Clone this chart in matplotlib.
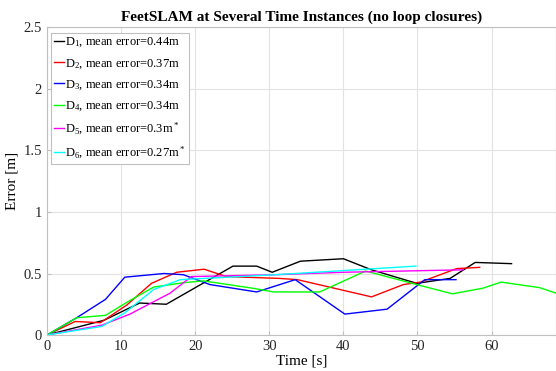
import numpy as np
import matplotlib
matplotlib.use("Agg")
import matplotlib.pyplot as plt

plt.rcParams['font.family'] = ['Liberation Serif', 'DejaVu Serif']
plt.rcParams['mathtext.fontset'] = 'custom'
plt.rcParams['mathtext.rm'] = 'Liberation Serif'
plt.rcParams['mathtext.it'] = 'Liberation Serif:italic'

# values
t_d1 = [0, 7.7, 12.5, 16.1, 25.1, 28.3, 30.4, 34.2, 40.0, 43.8, 49.9, 54.4, 57.8, 62.7]
e_d1 = [0, 0.12, 0.26, 0.25, 0.56, 0.56, 0.51, 0.60, 0.62, 0.53, 0.42, 0.46, 0.59, 0.58]

t_d2 = [0, 3.8, 7.2, 10.8, 14.1, 17.5, 21.2, 24.2, 31.4, 33.8, 43.8, 48.1, 50.4, 55.3, 58.4]
e_d2 = [0, 0.11, 0.10, 0.245, 0.42, 0.51, 0.535, 0.475, 0.46, 0.45, 0.31, 0.41, 0.43, 0.54, 0.55]

t_d3 = [0, 4.0, 7.9, 10.5, 15.8, 18.4, 22.0, 28.3, 33.5, 40.2, 45.9, 51.0, 55.2]
e_d3 = [0, 0.14, 0.29, 0.47, 0.50, 0.49, 0.41, 0.35, 0.45, 0.17, 0.21, 0.45, 0.45]

t_d4 = [0, 4.0, 7.9, 10.9, 14.4, 18.4, 21.1, 27.8, 30.6, 36.8, 43.0, 49.9, 54.7, 58.8, 61.3, 66.5, 68.7]
e_d4 = [0, 0.14, 0.16, 0.27, 0.39, 0.425, 0.44, 0.38, 0.35, 0.35, 0.52, 0.41, 0.335, 0.38, 0.43, 0.385, 0.34]

t_d5 = [0, 7.4, 11.2, 16.6, 19.5, 30.8, 40.0, 56.2]
e_d5 = [0, 0.08, 0.17, 0.34, 0.475, 0.49, 0.51, 0.53]

t_d6 = [0, 7.4, 10.5, 14.4, 18.0, 30.8, 49.8]
e_d6 = [0, 0.07, 0.18, 0.37, 0.45, 0.49, 0.56]

labels = [r'D$_1$, mean error=0.44m',
          r'D$_2$, mean error=0.37m',
          r'D$_3$, mean error=0.34m',
          r'D$_4$, mean error=0.34m',
          r'D$_5$, mean error=0.3m$^*$',
          r'D$_6$, mean error=0.27m$^*$']
colors = ['#000000', '#ff0000', '#0000ff', '#00ff00', '#ff00ff', '#00ffff']

fig = plt.figure(figsize=(5.56, 3.71), dpi=100)
ax = fig.add_axes([0.0845, 0.097, 0.9155, 0.829])

series = [(t_d1, e_d1), (t_d2, e_d2), (t_d3, e_d3), (t_d4, e_d4), (t_d5, e_d5), (t_d6, e_d6)]
for (t, e), c, lab in zip(series, colors, labels):
    ax.plot(t, e, color=c, linewidth=1.0, label=lab)

ax.set_xlim(0, 68.7)
ax.set_ylim(0, 2.5)
ax.set_xticks([0, 10, 20, 30, 40, 50, 60])
ax.set_yticks([0, 0.5, 1, 1.5, 2, 2.5])
ax.set_yticklabels(['0', '0.5', '1', '1.5', '2', '2.5'])
ax.grid(True, color='#e3e3e3', linewidth=0.8)
ax.set_axisbelow(True)
for s in ax.spines.values():
    s.set_color('#c0c0c0')
ax.tick_params(direction='in', length=3, colors='#c0c0c0', labelcolor='#262626', labelsize=10.5)

ax.set_title('FeetSLAM at Several Time Instances (no loop closures)', fontsize=11, fontweight='bold', pad=5)
ax.set_xlabel('Time [s]', fontsize=11, labelpad=1)
ax.set_ylabel('Error [m]', fontsize=11, labelpad=4)

leg = ax.legend(loc='upper left', bbox_to_anchor=(0.008, 0.983), borderaxespad=0,
                fontsize=9.0, handlelength=0.75, handletextpad=0.15, labelspacing=0.62,
                borderpad=0.25, fancybox=False, framealpha=1)
leg.get_frame().set_edgecolor('#c0c0c0')
leg.get_frame().set_linewidth(0.8)

fig.savefig('out.png', dpi=100)
